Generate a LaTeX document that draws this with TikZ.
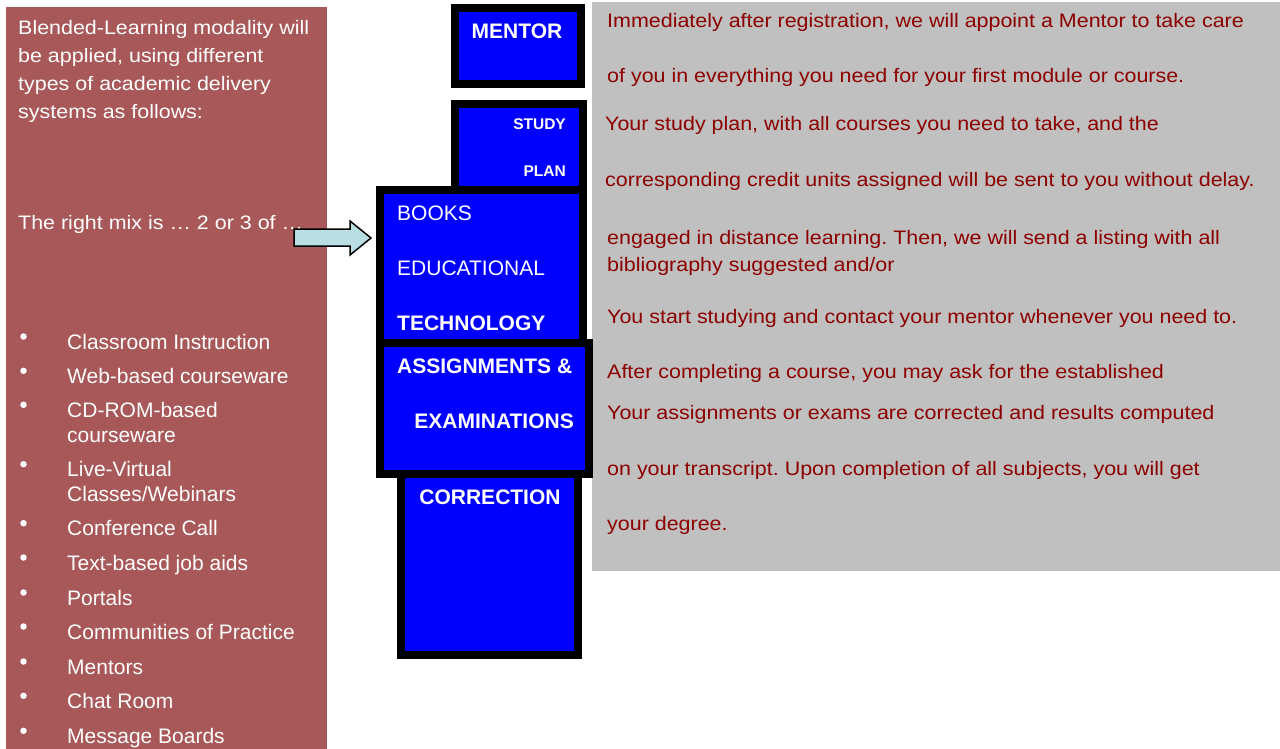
\documentclass[tikz,border=0pt]{standalone}
\usepackage{fontspec}
\setmainfont{Liberation Sans}
\newfontfamily\widesans[FakeStretch=1.1]{Liberation Sans}
\frenchspacing
\definecolor{panelred}{RGB}{168,88,88}
\definecolor{panelgray}{RGB}{192,192,192}
\definecolor{txtred}{RGB}{140,0,0}
\definecolor{arrowcyan}{RGB}{185,223,226}
\definecolor{boxblue}{RGB}{0,0,255}
\tikzset{
  bluebox/.style={draw=black, line width=8pt, fill=boxblue, inner sep=0pt, anchor=north west},
  lefttxt/.style={text=white, font=\widesans\fontsize{19.5}{28}\selectfont, anchor=base west, inner sep=0pt},
  itemtxt/.style={text=white, font=\fontsize{21}{25}\selectfont, anchor=base west, inner sep=0pt, align=left},
  dot/.style={circle, fill=white, inner sep=0pt, minimum size=6.5pt},
  righttxt/.style={text=txtred, font=\widesans\fontsize{19.5}{24}\selectfont, anchor=base west, inner sep=0pt},
  boxlbl/.style={text=white, font=\bfseries\fontsize{21}{25}\selectfont, inner sep=0pt},
  boxlblreg/.style={text=white, font=\fontsize{21}{25}\selectfont, inner sep=0pt},
  boxlblsmall/.style={text=white, font=\bfseries\fontsize{15.5}{20}\selectfont, inner sep=0pt},
  blockarrow/.style={draw=black, line width=1.5pt, fill=arrowcyan, line join=miter}
}
\begin{document}
\begin{tikzpicture}[x=1pt,y=-1pt]
\useasboundingbox (0,0) rectangle (1280,749);
\fill[white] (0,0) rectangle (1280,749);

% left panel
\fill[panelred] (6,7) rectangle (327,749);
\node[lefttxt] (p1) at (18,34.5) {Blended-Learning modality will};
\node[lefttxt] (p2) at (18,62.5) {be applied, using different};
\node[lefttxt] (p3) at (18,90.5) {types of academic delivery};
\node[lefttxt] (p4) at (18,118.5) {systems as follows:};
\node[lefttxt] (mix) at (18,229.3) {The right mix is … 2 or 3 of …};

% bullet list (multi-line items are placed by their last line's baseline)
\node[itemtxt] (i1) at (67,349) {Classroom Instruction};
\node[itemtxt] (i2) at (67,383.3) {Web-based courseware};
\node[itemtxt] (i3) at (67,442.3) {CD-ROM-based\\courseware};
\node[itemtxt] (i4) at (67,501.7) {Live-Virtual\\Classes/Webinars};
\node[itemtxt] (i5) at (67,535.7) {Conference Call};
\node[itemtxt] (i6) at (67,570) {Text-based job aids};
\node[itemtxt] (i7) at (67,605) {Portals};
\node[itemtxt] (i8) at (67,639) {Communities of Practice};
\node[itemtxt] (i9) at (67,674) {Mentors};
\node[itemtxt] (i10) at (67,708.3) {Chat Room};
\node[itemtxt] (i11) at (67,743.3) {Message Boards};
\foreach \yy [count=\k] in {349,383.3,417.3,476.7,535.7,570,605,639,674,708.3,743.3}
  \node[dot] (b\k) at (23.5,\yy-12.5) {};

% arrow
\coordinate (a1) at (294,229);
\coordinate (a2) at (350,229);
\coordinate (a3) at (350,221);
\coordinate (tip) at (371,238);
\coordinate (a5) at (350,255);
\coordinate (a6) at (350,246);
\coordinate (a7) at (294,246);
\draw[blockarrow] (a1) -- (a2) -- (a3) -- (tip) -- (a5) -- (a6) -- (a7) -- cycle;

% gray text panel
\fill[panelgray] (592,2) rectangle (1280,571);

% right text
\node[righttxt] (r1) at (607,28) {Immediately after registration, we will appoint a Mentor to take care};
\node[righttxt] (r2) at (607,83) {of you in everything you need for your first module or course.};
\node[righttxt] (r3) at (605,131) {Your study plan, with all courses you need to take, and the};
\node[righttxt] (r4) at (605,186) {corresponding credit units assigned will be sent to you without delay.};
\node[righttxt] (r5) at (607,244) {engaged in distance learning. Then, we will send a listing with all};
\node[righttxt] (r6) at (607,271) {bibliography suggested and/or};
\node[righttxt] (r7) at (607,323) {You start studying and contact your mentor whenever you need to.};
\node[righttxt] (r8) at (607,378) {After completing a course, you may ask for the established};
\node[righttxt] (r9) at (607,419) {Your assignments or exams are corrected and results computed};
\node[righttxt] (r10) at (607,475) {on your transcript. Upon completion of all subjects, you will get};
\node[righttxt] (r11) at (607,530) {your degree.};

% blue boxes (placed by outer corner; size = outer size minus border)
\node[bluebox, minimum width=128pt, minimum height=92pt] (study) at (451,100) {};
\node[bluebox, minimum width=203pt, minimum height=153pt] (books) at (376,186) {};
\node[bluebox, minimum width=177pt, minimum height=211pt] (corr) at (397,440) {};
\node[bluebox, minimum width=209pt, minimum height=131pt] (assign) at (376,339) {};
\node[bluebox, minimum width=126pt, minimum height=76pt] (mentor) at (451,4) {};

% box labels
\node[boxlbl, anchor=base] (lmentor) at (517,38.3) {MENTOR};
\node[boxlblsmall, anchor=base east] (lstudy) at (566,129.3) {STUDY};
\node[boxlblsmall, anchor=base east] (lplan) at (566,176.7) {PLAN};
\node[boxlblreg, anchor=base west] (lbooks) at (397,220) {BOOKS};
\node[boxlblreg, anchor=base west] (ledu) at (397,275) {EDUCATIONAL};
\node[boxlbl, anchor=base west] (ltech) at (397,330) {TECHNOLOGY};
\node[boxlbl, anchor=base west] (lassign) at (397,373.3) {ASSIGNMENTS \&};
\node[boxlbl, anchor=base east] (lexam) at (574,428.3) {EXAMINATIONS};
\node[boxlbl, anchor=base] (lcorr) at (490,504) {CORRECTION};
\end{tikzpicture}
\end{document}
